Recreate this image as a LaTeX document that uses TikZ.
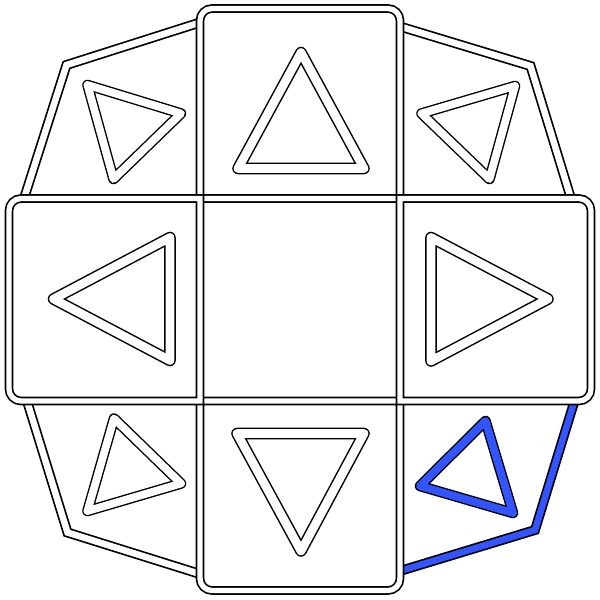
\documentclass[tikz,border=0pt]{standalone}
\definecolor{padblue}{RGB}{51,85,255}
\begin{document}
\begin{tikzpicture}[x=1pt,y=-1pt,
  panel/.style={draw=black, line width=1.7pt, double=white, double distance=5.3pt, fill=white},
  rim/.style={draw=black, line width=1.7pt, double=white, double distance=6.5pt, line join=miter},
  bigtri/.style={draw=black, line width=1.5pt, double=white, double distance=8.6pt, line join=round},
  smalltri/.style={draw=black, line width=1.4pt, double=white, double distance=7.8pt, line join=round}]
\useasboundingbox[fill=white] (0,0) rectangle (600,600);
% corner rims (outer edges only)
\draw[rim] (200,22.5) -- (66.5,65) -- (24,198.5);
\draw[rim] (400,26.5) -- (530.5,66) -- (571,198.5);
\draw[rim] (27,401) -- (67.5,532.5) -- (200,574);
\draw[rim, double=padblue] (574.5,401) -- (535,530) -- (400,571);
% corner triangles
\draw[smalltri] (87.5,85) -- (181,113.5) -- (113.5,179) -- cycle;
\draw[smalltri] (515,86) -- (421.5,113.5) -- (489.5,179) -- cycle;
\draw[smalltri] (114,418.5) -- (181,483.5) -- (87.5,511) -- cycle;
\draw[smalltri, double=padblue] (485.5,421) -- (420,486) -- (513,513) -- cycle;
% panels
\draw[panel] (200,198.5) -- (200,100) [rounded corners=12pt] -- (200,8.5) -- (400,8.5) -- (400,100) [sharp corners] -- (400,198.5) -- cycle;
\draw[panel] (200,401) -- (200,500) [rounded corners=12pt] -- (200,590.5) -- (400,590.5) -- (400,500) [sharp corners] -- (400,401) -- cycle;
\draw[panel] (200,198.5) -- (100,198.5) [rounded corners=12pt] -- (9,198.5) -- (9,401) -- (100,401) [sharp corners] -- (200,401) -- cycle;
\draw[panel] (400,198.5) -- (500,198.5) [rounded corners=12pt] -- (591,198.5) -- (591,401) -- (500,401) [sharp corners] -- (400,401) -- cycle;
% big triangles
\draw[bigtri] (301,52.5) -- (238,168.5) -- (364,168.5) -- cycle;
\draw[bigtri] (237,433.5) -- (364,433.5) -- (301,551) -- cycle;
\draw[bigtri] (53.5,299) -- (170,237.5) -- (170,360.5) -- cycle;
\draw[bigtri] (548,299) -- (431,237.5) -- (431,361) -- cycle;
\end{tikzpicture}
\end{document}
